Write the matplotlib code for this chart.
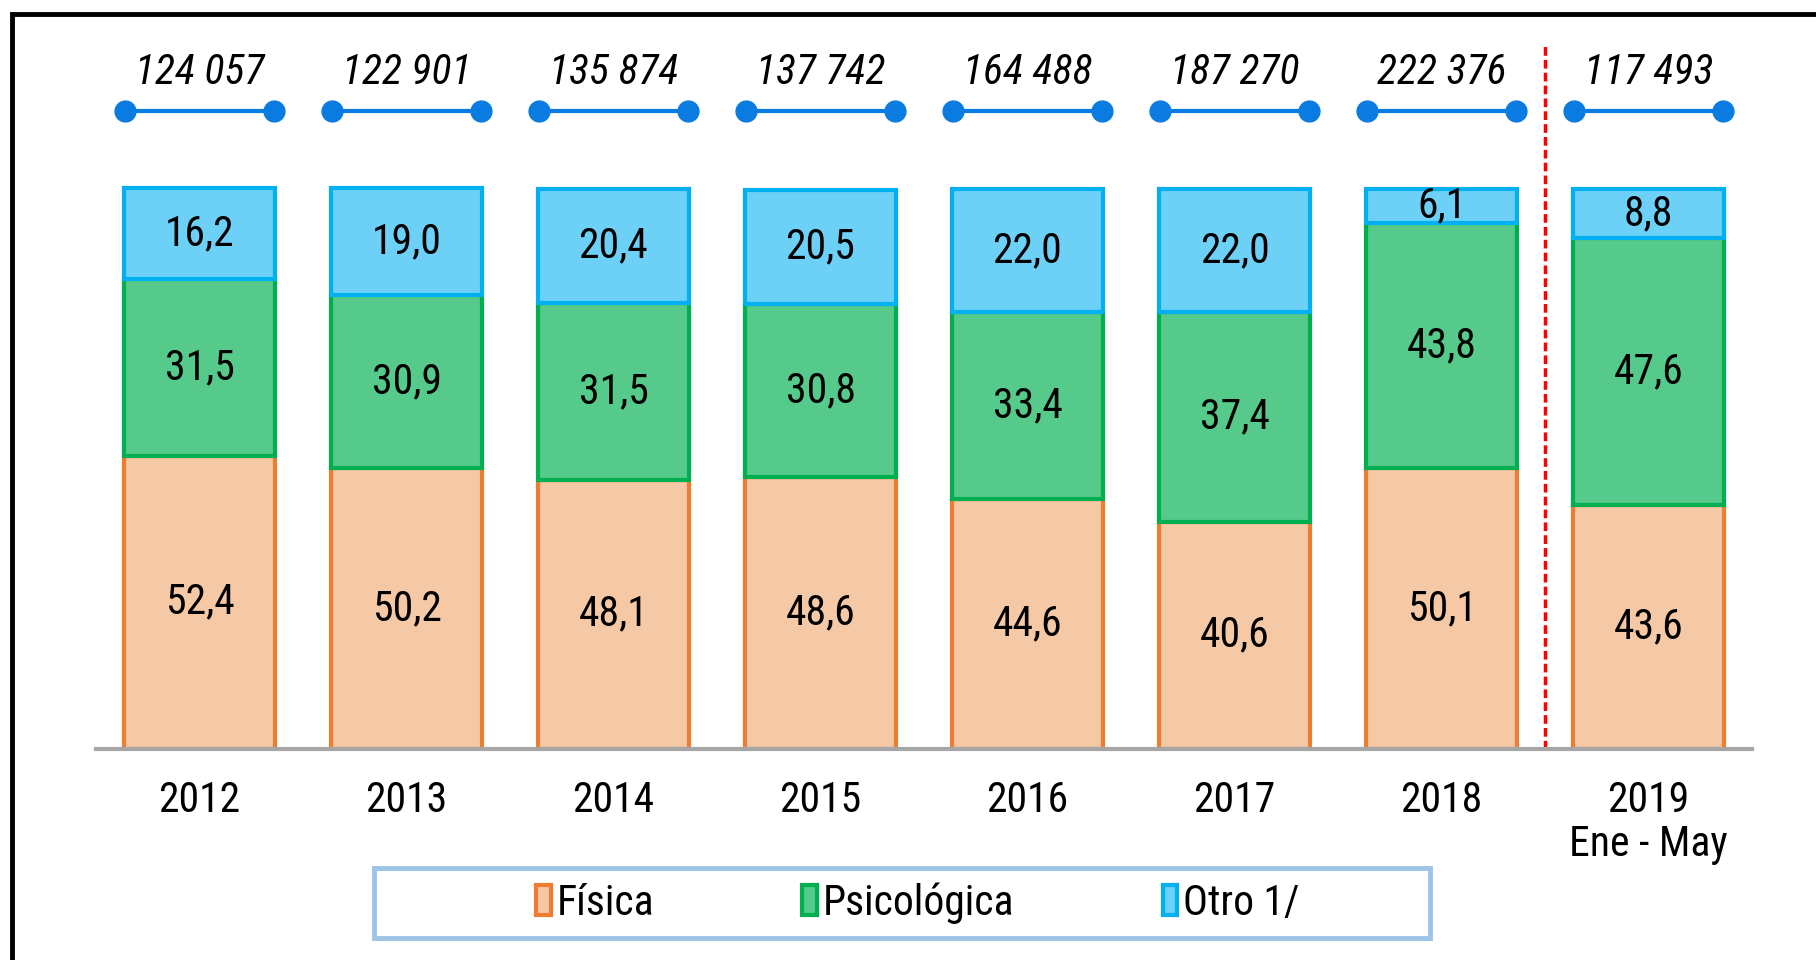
import numpy as np
import matplotlib
matplotlib.use("Agg")
import matplotlib.pyplot as plt
from matplotlib.patches import Patch, Rectangle

plt.rcParams['font.family'] = ['Roboto Condensed', 'Liberation Sans', 'DejaVu Sans']

# Data
years = ["2012", "2013", "2014", "2015", "2016", "2017", "2018", "2019\nEne - May"]
fisica = [52.4, 50.2, 48.1, 48.6, 44.6, 40.6, 50.1, 43.6]
psicologica = [31.5, 30.9, 31.5, 30.8, 33.4, 37.4, 43.8, 47.6]
otro = [16.2, 19.0, 20.4, 20.5, 22.0, 22.0, 6.1, 8.8]
totales = ["124 057", "122 901", "135 874", "137 742", "164 488", "187 270", "222 376", "117 493"]

series = [
    ("Física", fisica, "#F5C8A6", "#ED7D31"),
    ("Psicológica", psicologica, "#55CA8A", "#00B050"),
    ("Otro 1/", otro, "#6DD0F7", "#00B0F0"),
]

W, H = 1816, 960
fig = plt.figure(figsize=(W / 100, H / 100), dpi=100)

# axes placed so that 0..100% spans the bar area
left, right, base, top = 96, 1752, 749, 44
ymax = 100 * (base - top) / (base - 189)
ax = fig.add_axes([left / W, 1 - base / H, (right - left) / W, (base - top) / H])

x = np.arange(len(years))
bw = 0.73
fs = 30

bottom = np.zeros(len(years))
for name, vals, fc, ec in series:
    vals = np.array(vals)
    ax.bar(x, vals, bw, bottom=bottom, color=fc, edgecolor=ec, linewidth=3, zorder=2)
    for xi, b, v in zip(x, bottom, vals):
        ax.text(xi, b + v / 2, f"{v:.1f}".replace(".", ","), ha="center", va="center",
                fontsize=fs, color="black", zorder=3)
    bottom += vals

# totals with dumbbell segments
seg_y = 114
for xi, t in zip(x, totales):
    ax.plot([xi - 0.36, xi + 0.36], [seg_y, seg_y], color="#0A7BE0", lw=3,
            marker="o", markersize=15, clip_on=False, zorder=3)
    ax.text(xi, seg_y + 4.8, t, ha="center", va="baseline", fontsize=fs, style="italic")

# separator for partial year
ax.axvline(6.5, color="#FF0000", ls=(0, (2.5, 1.2)), lw=2.5, zorder=1)

ax.set_xlim(-0.5, len(years) - 0.5)
ax.set_ylim(0, ymax)
ax.set_yticks([])
ax.set_xticks(x)
ax.set_xticklabels(years, fontsize=fs, linespacing=1.1)
ax.tick_params(axis="x", length=0, pad=22)
for s in ["left", "right", "top"]:
    ax.spines[s].set_visible(False)
ax.spines["bottom"].set_color("#A6A6A6")
ax.spines["bottom"].set_linewidth(3)
ax.spines["bottom"].set_zorder(4)

# outer frame
fig.patches.append(Rectangle((12 / W, -0.1), 1.2, 1 - 14 / H + 0.1, transform=fig.transFigure,
                             fill=False, edgecolor="black", linewidth=3.5))

# legend box
fig.patches.append(Rectangle((374 / W, 1 - 938 / H), 1056 / W, 70 / H, transform=fig.transFigure,
                             fill=False, edgecolor="#9DC3E6", linewidth=3.5))
handles = [Patch(facecolor=fc, edgecolor=ec, linewidth=3, label=name) for name, _, fc, ec in series]
fig.legend(handles=handles, loc="center", bbox_to_anchor=(918 / W, 1 - 903 / H), ncol=3,
           frameon=False, fontsize=fs, handlelength=0.35, handleheight=0.75,
           handletextpad=0.15, columnspacing=3.55)

fig.savefig("out.png", dpi=100)
